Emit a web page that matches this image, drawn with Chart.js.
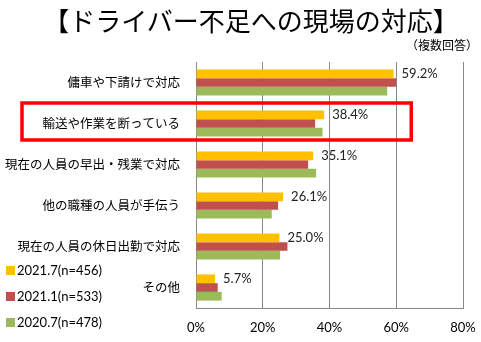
<!DOCTYPE html>
<html>
<head>
<meta charset="utf-8">
<script src="https://cdn.jsdelivr.net/npm/chart.js@4"></script>
<style>
  body { margin: 0; background: #fff; }
  #wrap { position: relative; width: 481px; height: 342px; }
  #title { position: absolute; left: 0; top: 1px; width: 502px; text-align: center;
    font: normal 26px "Noto Sans CJK JP"; color: #000; }
  #sub { position: absolute; right: 3px; top: 36px; font: 12px "Noto Sans CJK JP"; color: #000; }
  #legend { position: absolute; left: 6px; top: 261px; font: 13px Lato, sans-serif; color: #000; }
  #legend div { height: 26px; line-height: 18px; }
  #legend span { display: inline-block; width: 9px; height: 9px; margin-right: 2px; }
  canvas { display: block; }
</style>
</head>
<body>
<div id="wrap">
  <canvas id="c" width="481" height="342"></canvas>
  <div id="title">【ドライバー不足への現場の対応】</div>
  <div id="sub">（複数回答）</div>
  <div id="legend"></div>
</div>
<script>
const categories = ["傭車や下請けで対応", "輸送や作業を断っている", "現在の人員の早出・残業で対応",
  "他の職種の人員が手伝う", "現在の人員の休日出勤で対応", "その他"];
const seriesLabels = ["2021.7(n=456)", "2021.1(n=533)", "2020.7(n=478)"];
const jul2021 = [59.2, 38.4, 35.1, 26.1, 25.0, 5.7];
const jan2021 = [60.0, 35.7, 33.6, 24.6, 27.4, 6.5];
const jul2020 = [57.3, 37.9, 36.0, 22.7, 25.2, 7.7];
const colors = ["#FFC000", "#C0504D", "#9BBB59"];
const xTicks = [0, 20, 40, 60, 80];
const highlightIndex = 1;

const seriesValues = [jul2021, jan2021, jul2020];

// legend in the lower left corner
const legend = document.getElementById("legend");
seriesLabels.forEach((label, i) => {
  const row = document.createElement("div");
  row.innerHTML = '<span style="background:' + colors[i] + '"></span>' + label;
  legend.appendChild(row);
});

// value labels for the newest series only
const valueLabels = {
  id: "valueLabels",
  afterDatasetsDraw(chart) {
    const ctx = chart.ctx;
    const meta = chart.getDatasetMeta(0);
    ctx.save();
    ctx.font = "13px Lato, sans-serif";
    ctx.fillStyle = "#222";
    ctx.textBaseline = "middle";
    meta.data.forEach((bar, i) => {
      ctx.fillText(jul2021[i].toFixed(1) + "%", bar.x + 8, bar.y);
    });
    ctx.restore();
  }
};

// red box around the highlighted category
const highlight = {
  id: "highlight",
  afterDraw(chart) {
    const ctx = chart.ctx;
    const y = chart.scales.y.getPixelForValue(highlightIndex) - 2;
    const right = chart.scales.x.getPixelForValue(64.5);
    ctx.save();
    ctx.strokeStyle = "#FF0000";
    ctx.lineWidth = 3.5;
    ctx.strokeRect(22, y - 18.5, right - 22, 37);
    ctx.restore();
  }
};

new Chart(document.getElementById("c"), {
  type: "bar",
  data: {
    labels: categories,
    datasets: seriesValues.map((vals, i) => ({
      label: seriesLabels[i],
      data: vals,
      backgroundColor: colors[i],
      categoryPercentage: 0.64,
      barPercentage: 1.0
    }))
  },
  options: {
    indexAxis: "y",
    responsive: false,
    animation: false,
    layout: { padding: { top: 62, right: 18, bottom: 0, left: 0 } },
    plugins: { legend: { display: false }, tooltip: { enabled: false } },
    scales: {
      x: {
        min: 0, max: 80,
        afterBuildTicks: (scale) => { scale.ticks = xTicks.map(v => ({ value: v })); },
        afterFit: (scale) => {
          scale.height = 34;
          scale.paddingLeft = 0;
          scale.paddingRight = 0;
        },
        ticks: { callback: v => v + "%", padding: 12, color: "#000",
          font: { family: "Lato", size: 13 } },
        grid: { color: "#888", drawTicks: false, lineWidth: 1 },
        border: { color: "#888" }
      },
      y: {
        afterFit: (scale) => { scale.width = 196; },
        ticks: { padding: 16, color: "#000", font: { family: "Noto Sans CJK JP", size: 12.5 } },
        grid: { display: false, drawTicks: false },
        border: { color: "#888" }
      }
    }
  },
  plugins: [valueLabels, highlight]
});
</script>
</body>
</html>
